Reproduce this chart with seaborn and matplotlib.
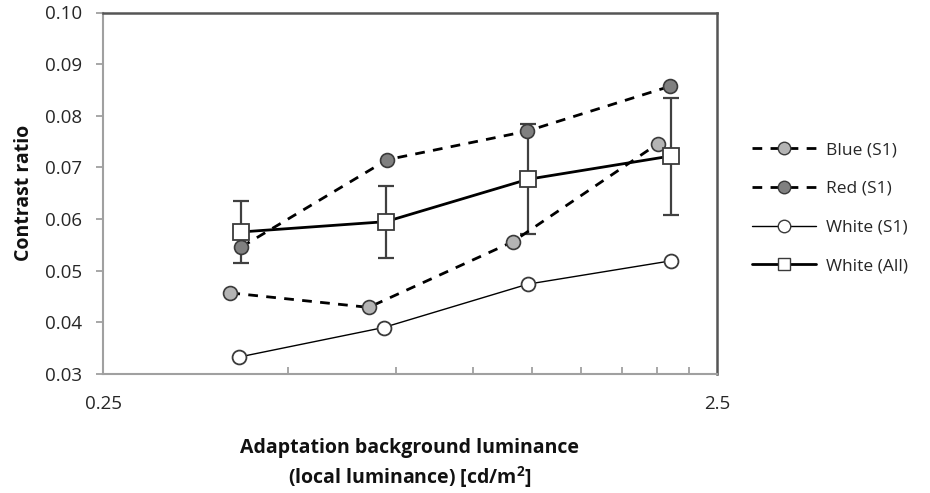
import matplotlib
matplotlib.use("Agg")
import matplotlib.pyplot as plt
import matplotlib.ticker as mticker
from matplotlib.lines import Line2D
import seaborn as sns
import numpy as np

# ---- data ----
x_blue = [0.403, 0.677, 1.162, 2.003]
blue_s1 = [0.0457, 0.0429, 0.0556, 0.0746]
x_red = [0.420, 0.726, 1.224, 2.095]
red_s1 = [0.0546, 0.0715, 0.0770, 0.0857]
x_white = [0.417, 0.716, 1.23, 2.10]
white_s1 = [0.0333, 0.0390, 0.0474, 0.0519]
x_all = [0.419, 0.722, 1.23, 2.10]
white_all = [0.0575, 0.0595, 0.0677, 0.0722]
err_upper = [0.0635, 0.0664, 0.0785, 0.0835]
err_lower = [0.0514, 0.0524, 0.0571, 0.0607]
labels = ["Blue (S1)", "Red (S1)", "White (S1)", "White (All)"]
x_ticks = [0.25, 2.5]
x_tick_labels = ["0.25", "2.5"]
x_minor = [0.5, 0.75, 1.0, 1.25, 1.5, 1.75, 2.0, 2.25]
y_ticks = [0.03, 0.04, 0.05, 0.06, 0.07, 0.08, 0.09, 0.10]

sns.set_style("white")
plt.rcParams['font.family'] = ['Open Sans', 'DejaVu Sans']

fig = plt.figure(figsize=(9.3, 4.93), dpi=100)
ax = fig.add_axes([103/930, 1-374/493, (717-103)/930, (374-12.5)/493])

edge = "#3a3a3a"
blue_fill = "#b4b4b4"
red_fill = "#808080"
dash = (0, (3.5, 3))
text_col = "#262626"

# error bars for White (All)
yerr = np.array([np.array(white_all) - np.array(err_lower),
                 np.array(err_upper) - np.array(white_all)])
ax.errorbar(x_all, white_all, yerr=yerr, fmt='none', ecolor="#404040",
            elinewidth=1.6, capsize=6, capthick=1.6, zorder=2)

sns.lineplot(x=x_all, y=white_all, ax=ax, color="black", lw=2,
             marker='s', markersize=11, markerfacecolor='white',
             markeredgecolor=edge, markeredgewidth=1.3, zorder=4)
sns.lineplot(x=x_red, y=red_s1, ax=ax, color="black", lw=2, linestyle=dash,
             marker='o', markersize=10, markerfacecolor=red_fill,
             markeredgecolor=edge, markeredgewidth=1.2, zorder=3)
sns.lineplot(x=x_blue, y=blue_s1, ax=ax, color="black", lw=2, linestyle=dash,
             marker='o', markersize=10, markerfacecolor=blue_fill,
             markeredgecolor=edge, markeredgewidth=1.2, zorder=3)
sns.lineplot(x=x_white, y=white_s1, ax=ax, color="black", lw=1,
             marker='o', markersize=10, markerfacecolor='white',
             markeredgecolor=edge, markeredgewidth=1.3, zorder=3)

ax.set_xscale('log')
ax.set_xlim(0.25, 2.5)
ax.set_ylim(0.03, 0.10)
ax.xaxis.set_major_locator(mticker.FixedLocator(x_ticks))
ax.xaxis.set_major_formatter(mticker.FixedFormatter(x_tick_labels))
ax.xaxis.set_minor_locator(mticker.FixedLocator(x_minor))
ax.xaxis.set_minor_formatter(mticker.NullFormatter())
ax.set_yticks(y_ticks)
ax.yaxis.set_major_formatter(mticker.FormatStrFormatter('%.2f'))

axis_gray = "#a0a0a0"
for s in ['left', 'bottom']:
    ax.spines[s].set_color(axis_gray)
    ax.spines[s].set_linewidth(1.5)
for s in ['top', 'right']:
    ax.spines[s].set_color("#555555")
    ax.spines[s].set_linewidth(1.8)
    ax.spines[s].set_visible(True)

ax.tick_params(axis='x', which='major', direction='out', length=5, width=1.3,
               color=axis_gray, labelsize=13.5, labelcolor=text_col, pad=10)
ax.tick_params(axis='x', which='minor', direction='in', length=5, width=1.3,
               color=axis_gray, bottom=True)
ax.tick_params(axis='y', which='major', direction='out', length=5, width=1.3,
               color=axis_gray, labelsize=13.5, labelcolor=text_col, pad=10, left=True)

ax.set_ylabel("Contrast ratio", fontsize=14, fontweight='bold', labelpad=8,
              color="#111111")
ax.set_xlabel("Adaptation background luminance\n(local luminance) [cd/m$^\\mathregular{2}$]",
              fontsize=14, fontweight='bold', labelpad=18, linespacing=1.3,
              color="#111111")

handles = [
    Line2D([], [], color='black', lw=2, linestyle=dash, marker='o', markersize=9,
           markerfacecolor=blue_fill, markeredgecolor=edge),
    Line2D([], [], color='black', lw=2, linestyle=dash, marker='o', markersize=9,
           markerfacecolor=red_fill, markeredgecolor=edge),
    Line2D([], [], color='black', lw=1, marker='o', markersize=9,
           markerfacecolor='white', markeredgecolor=edge),
    Line2D([], [], color='black', lw=2, marker='s', markersize=9,
           markerfacecolor='white', markeredgecolor=edge),
]
leg = fig.legend(handles, labels, loc='upper left', bbox_to_anchor=(752/930, 1-142/493),
                 frameon=False, fontsize=12.5, handlelength=3.7, handletextpad=0.55,
                 labelspacing=1.3, borderpad=0, borderaxespad=0)
for t in leg.get_texts():
    t.set_color(text_col)

fig.savefig("out.png", dpi=100)
